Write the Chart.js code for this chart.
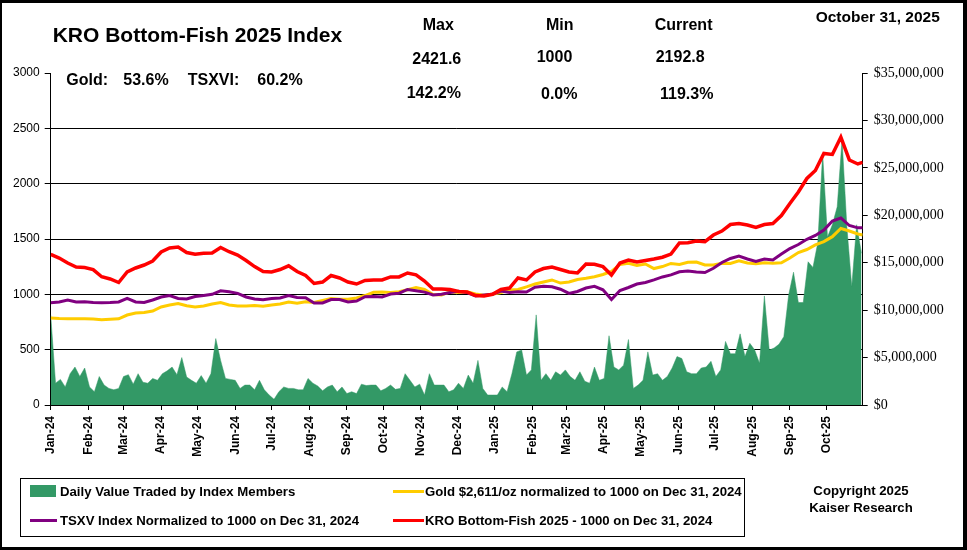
<!DOCTYPE html>
<html><head><meta charset="utf-8">
<script src="https://cdn.jsdelivr.net/npm/chart.js@4"></script>
<style>
html,body{margin:0;padding:0;background:#fff;}
#wrap{position:relative;width:967px;height:550px;overflow:hidden;background:#fff;font-family:"Liberation Sans",Arial,sans-serif;font-weight:bold;color:#000;}
#frame{position:absolute;left:0;top:0;width:967px;height:550px;box-sizing:border-box;border-style:solid;border-color:#000;border-width:3px 4px 3px 2px;pointer-events:none;}
canvas{position:absolute;left:0;top:0;}
.t{position:absolute;white-space:nowrap;line-height:1;}
.h{font-size:16px;}
.lg{font-size:13.2px;}
#legend{position:absolute;left:20px;top:478px;width:725px;height:59px;box-sizing:border-box;border:1px solid #000;}
.sw{position:absolute;}
</style></head><body>
<div id="wrap">
<canvas id="c" width="967" height="550"></canvas>
<div class="t" style="left:52.7px;top:23.8px;font-size:21px">KRO Bottom-Fish 2025 Index</div>
<div class="t h" style="left:66.3px;top:71.5px">Gold:</div>
<div class="t h" style="left:123.3px;top:71.5px">53.6%</div>
<div class="t h" style="left:187.7px;top:71.5px">TSXVI:</div>
<div class="t h" style="left:257.3px;top:71.5px">60.2%</div>
<div class="t h" style="left:422.7px;top:17px">Max</div>
<div class="t h" style="left:412.3px;top:50.5px">2421.6</div>
<div class="t h" style="left:406.7px;top:84.8px">142.2%</div>
<div class="t h" style="left:546px;top:17px">Min</div>
<div class="t h" style="left:536.7px;top:49px">1000</div>
<div class="t h" style="left:541px;top:85.5px">0.0%</div>
<div class="t h" style="left:654.7px;top:16.5px">Current</div>
<div class="t h" style="left:655.7px;top:49px">2192.8</div>
<div class="t h" style="left:660px;top:85.5px">119.3%</div>
<div class="t" style="left:815.7px;top:9.2px;font-size:15.5px">October 31, 2025</div>
<div id="legend"></div>
<div class="sw" style="left:30px;top:485px;width:26px;height:12px;background:#339966"></div>
<div class="t lg" style="left:60px;top:484.5px">Daily Value Traded by Index Members</div>
<div class="sw" style="left:393px;top:489.5px;width:31px;height:3px;background:#ffcc00"></div>
<div class="t lg" style="left:425px;top:484.5px">Gold $2,611/oz normalized to 1000 on Dec 31, 2024</div>
<div class="sw" style="left:30px;top:518.5px;width:27px;height:3px;background:#800080"></div>
<div class="t lg" style="left:60px;top:513.5px">TSXV Index Normalized to 1000 on Dec 31, 2024</div>
<div class="sw" style="left:393px;top:518.5px;width:31px;height:3px;background:#ff0000"></div>
<div class="t lg" style="left:425px;top:513.5px">KRO Bottom-Fish 2025 - 1000 on Dec 31, 2024</div>
<div class="t lg" style="left:760px;width:202px;text-align:center;top:483.5px">Copyright 2025</div>
<div class="t lg" style="left:760px;width:202px;text-align:center;top:500.5px">Kaiser Research</div>
<div id="frame"></div>
</div>
<script>
// Month tick positions (days since Jan 1, 2024) and labels
const monthDays=[0,31,60,91,121,152,182,213,244,274,305,335,366,397,425,456,486,517,547,578,609,639];
const monthLabels=['Jan-24','Feb-24','Mar-24','Apr-24','May-24','Jun-24','Jul-24','Aug-24','Sep-24','Oct-24','Nov-24','Dec-24','Jan-25','Feb-25','Mar-25','Apr-25','May-25','Jun-25','Jul-25','Aug-25','Sep-25','Oct-25'];
const lastDay=669;
// Weekly readings (one value every 7 days from Jan 1, 2024; last = Oct 31, 2025)
const kroIndex=[1362,1328,1283,1247,1242,1224,1159,1139,1107,1202,
1238,1265,1301,1383,1419,1428,1378,1362,1371,1373,
1423,1385,1355,1306,1251,1206,1202,1224,1258,1206,
1170,1098,1111,1170,1148,1111,1093,1125,1130,1130,
1157,1157,1193,1176,1120,1048,1048,1044,1026,1021,
989,985,1000,1045,1057,1148,1130,1202,1233,1247,
1224,1202,1193,1274,1271,1250,1175,1283,1310,1292,
1306,1319,1335,1364,1464,1467,1482,1476,1536,1572,
1631,1640,1626,1604,1631,1640,1712,1821,1925,2047,
2119,2273,2264,2420,2214,2178,2193];
const tsxvIndex=[924,931,949,931,933,926,923,926,931,964,
931,926,949,976,989,962,958,980,989,1000,
1032,1024,1009,976,958,951,962,967,989,972,
970,922,922,953,953,931,940,978,980,976,
1003,1010,1044,1032,1020,994,1000,1016,1028,1016,
986,994,1000,1030,1016,1024,1021,1064,1073,1069,
1046,1008,1026,1057,1073,1041,953,1035,1062,1093,
1107,1130,1157,1176,1204,1211,1202,1197,1235,1288,
1324,1345,1319,1297,1319,1310,1364,1414,1450,1497,
1532,1581,1663,1690,1622,1601,1602];
const goldIndex=[786,782,780,780,780,777,770,775,779,813,
831,836,849,886,904,917,897,886,895,913,
926,904,895,895,899,892,904,913,931,919,
933,926,944,962,955,955,967,989,1018,1021,
1016,1024,1041,1062,1044,999,994,1022,1016,1024,
1003,991,1000,1016,1039,1044,1068,1093,1111,1130,
1102,1111,1134,1145,1159,1179,1208,1270,1280,1261,
1274,1233,1251,1279,1270,1289,1292,1265,1265,1280,
1279,1303,1283,1276,1285,1281,1285,1328,1378,1405,
1446,1477,1521,1595,1572,1545,1536];
// Daily value traded, $ millions, one reading every 4 days
const valueTradedM=[9.5,2.3,2.7,1.9,3.3,4.0,3.0,3.9,1.9,1.4,
3.0,2.1,1.75,1.6,1.75,3.0,3.2,2.2,3.3,2.4,
2.3,2.8,2.6,3.3,3.6,4.0,3.2,5.0,2.95,2.6,
2.3,3.1,2.3,3.3,7.0,4.7,2.8,2.7,2.6,1.75,
2.1,2.1,1.6,2.6,1.6,1.05,0.6,1.4,1.9,1.75,
1.75,1.6,1.6,2.8,2.3,2.0,1.5,1.9,2.1,1.4,
1.9,1.2,1.4,1.2,2.2,2.05,2.1,2.1,1.5,1.75,
2.1,1.65,1.75,3.3,2.6,1.9,2.2,1.05,3.3,2.1,
2.1,2.1,1.4,1.6,2.3,1.75,3.15,2.3,4.7,1.75,
1.05,1.05,1.05,1.9,1.4,3.3,5.6,5.8,3.15,3.7,
9.5,2.6,3.3,2.6,3.5,3.15,3.7,3.0,2.6,3.5,
2.5,2.3,4.0,2.6,2.8,7.3,4.0,3.7,4.2,6.9,
1.75,2.1,2.6,5.6,3.15,3.3,2.6,3.0,3.9,5.1,
4.9,3.5,3.3,3.3,3.9,4.0,4.6,3.0,3.7,6.7,
5.4,5.4,7.5,5.1,6.5,5.8,4.4,11.5,5.8,6.0,
6.4,7.2,11.6,14,10.8,10.8,15.1,14.5,17.1,26.5,
17.7,19.0,20.9,28.0,18.7,12.5,19,16];

const weekly=arr=>arr.map((v,i)=>({x:Math.min(i*7,lastDay),y:v}));
const volPts=valueTradedM.map((v,j)=>({x:Math.min(j*4,lastDay),y:v*1e6}));
const F='"Liberation Sans", Arial, sans-serif';

new Chart(document.getElementById('c'),{
  type:'line',
  data:{datasets:[
    {label:'KRO Bottom-Fish 2025',data:weekly(kroIndex),borderColor:'#ff0000',borderWidth:3.5,pointRadius:0,tension:0,yAxisID:'y',fill:false},
    {label:'TSXV',data:weekly(tsxvIndex),borderColor:'#800080',borderWidth:3,pointRadius:0,tension:0,yAxisID:'y',fill:false},
    {label:'Gold',data:weekly(goldIndex),borderColor:'#ffcc00',borderWidth:3,pointRadius:0,tension:0,yAxisID:'y',fill:false},
    {label:'Daily Value Traded',data:volPts,borderColor:'#339966',borderWidth:0.5,backgroundColor:'#339966',pointRadius:0,tension:0,yAxisID:'y2',fill:'origin'}
  ]},
  options:{
    responsive:false,animation:false,
    layout:{padding:{top:73,left:0,right:0,bottom:0}},
    plugins:{legend:{display:false},tooltip:{enabled:false}},
    scales:{
      x:{type:'linear',position:'bottom',min:0,max:lastDay,
        afterBuildTicks:s=>{s.ticks=monthDays.map(v=>({value:v}));},
        afterFit:s=>{s.height=145;},
        ticks:{autoSkip:false,maxRotation:90,minRotation:90,color:'#000',padding:6,
          font:{family:F,size:12,weight:'bold'},
          callback:v=>monthLabels[monthDays.indexOf(v)]},
        grid:{drawOnChartArea:false,tickLength:5,color:'#000'},
        border:{color:'#000',width:1}},
      y:{position:'left',min:0,max:3000,
        afterFit:s=>{s.width=50.7;},
        ticks:{stepSize:500,color:'#000',padding:5,font:{family:F,size:12},callback:v=>String(v)},
        grid:{color:c=>(c.tick&&c.tick.value===3000)?'rgba(0,0,0,0)':'#000',tickColor:'#000',tickLength:6,lineWidth:1},
        border:{color:'#000',width:1}},
      y2:{position:'right',min:0,max:35000000,
        afterFit:s=>{s.width=104.3;},
        ticks:{stepSize:5000000,color:'#000',padding:6,font:{family:'"Liberation Serif", "Times New Roman", serif',size:14},
          callback:v=>'$'+Number(v).toLocaleString('en-US')},
        grid:{drawOnChartArea:false,tickLength:5,color:'#000'},
        border:{color:'#000',width:1}}
    }
  }
});
</script>
</body></html>
